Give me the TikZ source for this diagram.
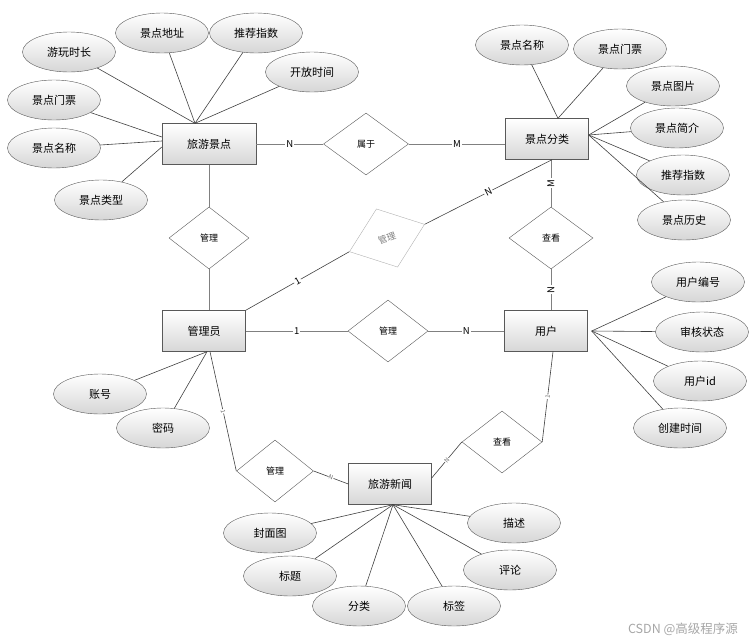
\documentclass[tikz,border=0pt]{standalone}
\usepackage{fontspec}
\setmainfont{Noto Sans CJK SC}
\usetikzlibrary{shapes.geometric}
\tikzset{
	entity/.style={draw=black!65, rectangle, minimum width=83pt, minimum height=41pt,
		top color=white, bottom color=black!16, font=\fontsize{11}{13}\selectfont},
	attrbox/.style={draw=black!65, ellipse, minimum width=93pt, minimum height=40pt,
		top color=white, bottom color=black!16, font=\fontsize{11}{13}\selectfont},
	relbox/.style={draw=black!65, diamond, minimum width=80pt, minimum height=62pt,
		inner sep=0pt, fill=white, font=\fontsize{9}{11}\selectfont},
	relline/.style={draw=black!50, line width=0.9pt},
	attrline/.style={draw=black!75, line width=0.6pt},
	card/.style={fill=white, inner sep=1pt, font=\fontsize{9.5}{11}\selectfont},
	smallcard/.style={fill=white, inner sep=0.5pt, font=\fontsize{6}{7}\selectfont, text=black!60},
}
\begin{document}
\begin{tikzpicture}[x=1pt, y=-1pt]
			\useasboundingbox (0, 0) rectangle (753, 643);

			\node [entity, minimum width=94pt] (jd) at (209, 144) {旅游景点};
			\node [entity] (jf) at (547, 139) {景点分类};
			\node [entity] (gly) at (204, 331) {管理员};
			\node [entity] (yh) at (546, 331) {用户};
			\node [entity] (xw) at (390, 484) {旅游新闻};

			\node [relbox, minimum width=85pt] (sy) at (366, 144) {属于};
			\node [relbox] (gl1) at (209, 238) {管理};
			\node [relbox, draw=black!30, text=black!50, rotate=20] (gl2) at (387, 238) {管理};
			\node [relbox] (gl3) at (388, 331) {管理};
			\node [relbox, minimum width=77pt] (gl4) at (275, 471) {管理};
			\node [relbox, minimum width=84pt] (ck1) at (551, 238) {查看};
			\node [relbox] (ck2) at (502, 442) {查看};

			\node [attrbox] (ywsc) at (69, 52) {游玩时长};
			\node [attrbox] (jddz) at (162, 33) {景点地址};
			\node [attrbox] (tjzs) at (256, 33) {推荐指数};
			\node [attrbox] (kfsj) at (312, 72) {开放时间};
			\node [attrbox] (jdmp) at (54, 100) {景点门票};
			\node [attrbox] (jdmc) at (54, 148) {景点名称};
			\node [attrbox] (jdlx) at (101, 200) {景点类型};

			\node [attrbox] (fmc) at (522, 45) {景点名称};
			\node [attrbox] (fmp) at (620, 49) {景点门票};
			\node [attrbox] (ftp) at (673, 86) {景点图片};
			\node [attrbox] (fjj) at (677, 128) {景点简介};
			\node [attrbox] (fzs) at (683, 175) {推荐指数};
			\node [attrbox] (fls) at (684, 220) {景点历史};

			\node [attrbox] (yhbh) at (698, 282) {用户编号};
			\node [attrbox] (shzt) at (702, 332) {审核状态};
			\node [attrbox] (yhid) at (700, 381) {用户id};
			\node [attrbox] (cjsj) at (680, 428) {创建时间};

			\node [attrbox] (zh) at (100, 394) {账号};
			\node [attrbox] (mm) at (163, 428) {密码};

			\node [attrbox] (fmt) at (270, 533) {封面图};
			\node [attrbox] (bt) at (290, 576) {标题};
			\node [attrbox] (fl) at (359, 606) {分类};
			\node [attrbox] (bq) at (454, 606) {标签};
			\node [attrbox] (pl) at (510, 570) {评论};
			\node [attrbox] (ms) at (514, 523) {描述};

			\foreach \a in {ywsc, jddz, tjzs, kfsj}
				\draw [attrline] (\a) -- ([xshift=-14pt]jd.north);
			\draw [attrline] (jdmp) -- ([yshift=7pt]jd.west);
			\draw [attrline] (jdmc) -- ([yshift=3pt]jd.west);
			\draw [attrline] (jdlx) -- ([yshift=-3pt]jd.west);

			\foreach \a in {fmc, fmp}
				\draw [attrline] (\a) -- ([xshift=11pt]jf.north);
			\foreach \a in {ftp, fjj, fzs, fls}
				\draw [attrline] (\a) -- ([yshift=4pt]jf.east);

			\foreach \a in {yhbh, shzt, yhid, cjsj}
				\draw [attrline] (\a) -- ([xshift=4pt]yh.east);

			\foreach \a in {zh, mm}
				\draw [attrline] (\a) -- ([xshift=3pt]gly.south);

			\foreach \a in {fmt, bt, fl, bq, pl, ms}
				\draw [attrline] (\a) -- ([xshift=3pt]xw.south);

			\draw [relline] (jd) -- node [card] {N} (sy);
			\draw [relline] (sy.east) -- node [card] {M} (sy.east -| jf.west);
			\draw [relline] (jd) -- (gl1);
			\draw [relline] (gl1.south) -- (gl1.south |- gly.north);
			\draw [relline] (ck1.north |- jf.south) -- node [card, rotate=90] {M} (ck1.north);
			\draw [relline] (ck1.south) -- node [card, rotate=90] {N} (ck1.south |- yh.north);
			\draw [relline] (gly) -- node [card] {1} (gl3);
			\draw [relline] (gl3) -- node [card] {N} (yh);
			\draw [attrline] (gly.north east) -- node [card, sloped] {1} (gl2.west);
			\draw [attrline] (gl2.east) -- node [card, sloped] {N} ([xshift=5pt]jf.south);
			\draw [attrline] ([xshift=6pt]gly.south) -- node [smallcard, sloped] {1} (gl4.west);
			\draw [attrline] (gl4.east) -- node [smallcard, sloped] {N} (xw.west);
			\draw [attrline] ([yshift=6pt]xw.east) -- node [smallcard, sloped] {N} (ck2.west);
			\draw [attrline] (ck2.east) -- node [smallcard, sloped] {1} ([xshift=7pt]yh.south);

			\node [text=black!35, font=\fontsize{12.5}{14}\selectfont] (wm) at (683, 629) {CSDN @高级程序源};
		\end{tikzpicture}
\end{document}
